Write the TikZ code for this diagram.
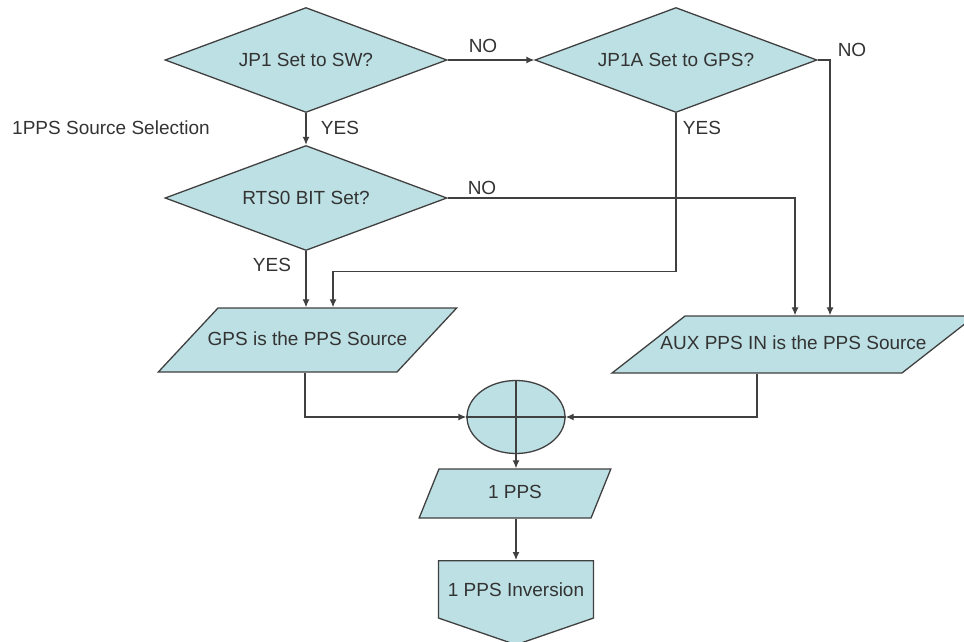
\documentclass[tikz,border=0pt]{standalone}
\usepackage{fontspec}
\setmainfont{Liberation Sans}
\usetikzlibrary{shapes.geometric,shapes.symbols,arrows.meta}
\definecolor{boxfill}{RGB}{189,224,228}

\begin{document}
\begin{tikzpicture}[
  x=1pt, y=-1pt,
  font=\fontsize{19}{21}\selectfont, text=black!80,
  line width=1.3pt, draw=black!75,
  decision/.style={diamond, draw, fill=boxfill, aspect=2.7, inner sep=1pt, minimum width=282, minimum height=105},
  io/.style={trapezium, draw, fill=boxfill, text height=14, text depth=4},
  arrow/.style={-{Latex[length=8,width=7]}},
  lbl/.style={inner sep=0pt}
]
\useasboundingbox (0,0) rectangle (964,642);
\node[decision] (sw) at (306,60) {JP1 Set to SW?};
\node[decision] (gpsq) at (676,60) {JP1A Set to GPS?};
\node[decision] (rts) at (306,198) {RTS0 BIT Set?};
\node[io, trapezium left angle=47, trapezium right angle=133, inner xsep=-10.3, inner ysep=23] (gps) at (307.5,340) {GPS is the PPS Source};
\node[io, trapezium left angle=38, trapezium right angle=142, inner xsep=-24.6, inner ysep=19.5] (aux) at (793.5,344.5) {AUX PPS IN is the PPS Source};
\node[ellipse, draw, fill=boxfill, minimum width=98, minimum height=73] (sum) at (516,417) {};
\node[io, trapezium left angle=68, trapezium right angle=112, inner xsep=49.1, inner ysep=15.5] (pps) at (515,493.5) {1 PPS};
\node[signal, signal to=south, signal pointer angle=142, draw, fill=boxfill, minimum width=155, minimum height=82, anchor=north] (inv) at (516,560) {1 PPS Inversion};
\node[lbl] (title) at (111,128) {1PPS Source Selection};
\node[lbl] (no1) at (483,46) {NO};
\node[lbl] (no2) at (852,50) {NO};
\node[lbl] (no3) at (482,188) {NO};
\node[lbl] (yes1) at (340,128) {YES};
\node[lbl] (yes2) at (702,128) {YES};
\node[lbl] (yes3) at (272,265) {YES};
\draw (sum.north) -- (sum.south);
\draw (sum.west) -- (sum.east);
\draw[arrow] (sw.east) -- (gpsq.west);
\draw[arrow] (sw.south) -- (rts.north);
\draw[arrow] (gpsq.east) -| ([xshift=36.5]aux.north);
\draw[arrow] (rts.east) -| ([xshift=1.5]aux.north);
\draw[arrow] (rts.south) -- (rts.south |- gps.north);
\draw[arrow] (gpsq.south) -- ++(0,158) -| ([xshift=25.5]gps.north);
\draw[arrow] ([xshift=-2.5]gps.south) |- (sum.west);
\draw[arrow] ([xshift=-36.5]aux.south) |- (sum.east);
\draw[arrow] (sum.south) -- (sum.south |- pps.north);
\draw[arrow] (sum.south |- pps.south) -- (inv.north);
\end{tikzpicture}
\end{document}
